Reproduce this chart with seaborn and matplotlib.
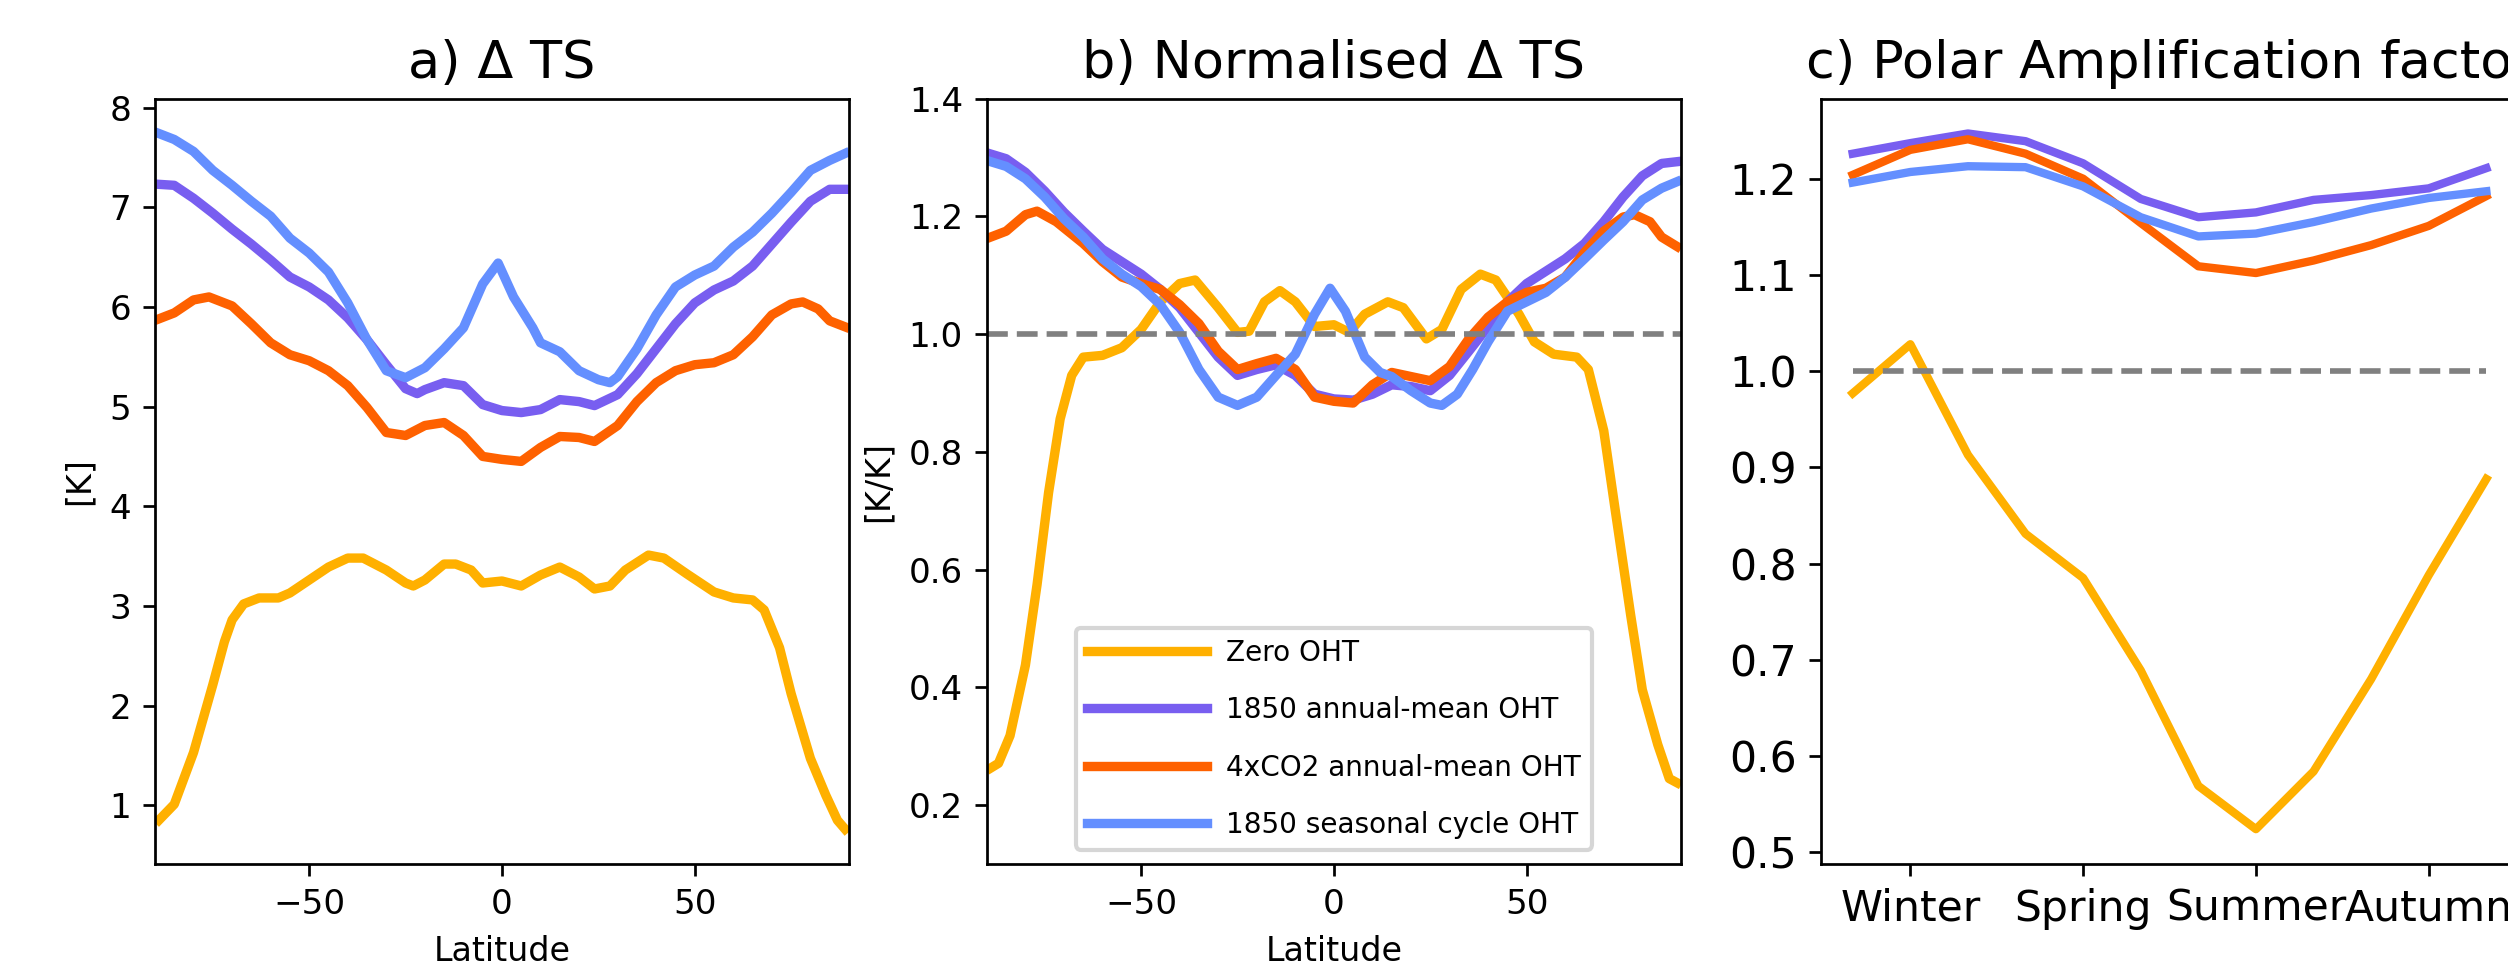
import matplotlib
matplotlib.use("Agg")
import matplotlib.pyplot as plt
import seaborn as sns

# ---- panel a: Delta TS [K] -------------------------------------------------
lat_a_zero = [-89, -85, -80, -75, -72, -70, -67, -63, -58, -55, -50, -45, -40, -36, -30, -25,
              -23, -20, -15, -12, -8, -5, 0, 5, 10, 15, 20, 24, 28, 32, 38, 42, 48, 55, 60,
              65, 68, 72, 75, 80, 84, 87, 89]
ts_zero = [0.85, 1.01, 1.53, 2.21, 2.64, 2.86, 3.02, 3.08, 3.08, 3.13, 3.26, 3.39, 3.48, 3.48,
           3.36, 3.23, 3.20, 3.26, 3.42, 3.42, 3.36, 3.23, 3.25, 3.20, 3.31, 3.39, 3.29, 3.17,
           3.20, 3.36, 3.51, 3.48, 3.32, 3.14, 3.08, 3.06, 2.96, 2.58, 2.12, 1.47, 1.10, 0.85, 0.76]

lat_a_1850 = [-89, -85, -80, -75, -70, -65, -60, -55, -50, -45, -40, -35, -30, -25, -22, -20,
              -15, -10, -5, 0, 5, 10, 15, 20, 24, 30, 35, 40, 45, 50, 55, 60, 65, 70, 75, 80, 85, 89]
ts_1850 = [7.23, 7.22, 7.09, 6.94, 6.78, 6.63, 6.47, 6.30, 6.20, 6.07, 5.89, 5.67, 5.42, 5.18,
           5.13, 5.17, 5.24, 5.21, 5.02, 4.96, 4.94, 4.97, 5.07, 5.05, 5.01, 5.12, 5.33, 5.58,
           5.83, 6.04, 6.17, 6.26, 6.41, 6.63, 6.85, 7.06, 7.18, 7.18]

lat_a_4x = [-89, -85, -80, -76, -70, -65, -60, -55, -50, -45, -40, -35, -30, -25, -20, -15,
            -10, -5, 0, 5, 10, 15, 20, 24, 30, 35, 40, 45, 50, 55, 60, 65, 70, 75, 78, 82, 85, 89]
ts_4x = [5.88, 5.94, 6.07, 6.10, 6.01, 5.83, 5.64, 5.52, 5.46, 5.36, 5.21, 4.99, 4.74, 4.71,
         4.81, 4.84, 4.71, 4.50, 4.47, 4.45, 4.59, 4.70, 4.69, 4.65, 4.81, 5.05, 5.24, 5.36,
         5.42, 5.44, 5.52, 5.70, 5.92, 6.03, 6.05, 5.98, 5.86, 5.80]

lat_a_seas = [-89, -85, -80, -75, -70, -65, -60, -55, -50, -45, -40, -35, -30, -25, -20, -15,
              -10, -5, -1, 3, 8, 10, 15, 20, 25, 28, 30, 35, 40, 45, 50, 55, 60, 65, 70, 75, 80, 85, 89]
ts_seas = [7.74, 7.68, 7.56, 7.37, 7.22, 7.06, 6.91, 6.69, 6.54, 6.35, 6.04, 5.67, 5.36, 5.29,
           5.39, 5.58, 5.79, 6.23, 6.44, 6.10, 5.79, 5.64, 5.55, 5.36, 5.27, 5.24, 5.30, 5.58,
           5.92, 6.20, 6.32, 6.41, 6.60, 6.75, 6.94, 7.15, 7.37, 7.47, 7.54]

# ---- panel b: normalised Delta TS [K/K] ------------------------------------
lat_b_zero = [-89, -87, -84, -80, -77, -74, -71, -68, -65, -60, -55, -50, -45, -40, -36, -30,
              -25, -22, -18, -14, -10, -5, 0, 4, 8, 14, 18, 24, 28, 33, 38, 42, 48, 52, 57, 63,
              66, 70, 73, 77, 80, 84, 87, 89]
nts_zero = [0.263, 0.271, 0.318, 0.438, 0.574, 0.731, 0.856, 0.930, 0.961, 0.964, 0.977, 1.008,
            1.055, 1.086, 1.092, 1.045, 1.003, 1.005, 1.055, 1.074, 1.055, 1.013, 1.016, 1.003,
            1.034, 1.055, 1.045, 0.992, 1.008, 1.076, 1.102, 1.092, 1.034, 0.987, 0.966, 0.961,
            0.940, 0.836, 0.700, 0.522, 0.396, 0.303, 0.245, 0.238]

lat_b_1850 = [-89, -85, -80, -75, -70, -65, -60, -55, -50, -45, -40, -35, -30, -25, -20, -15,
              -10, -5, 0, 5, 10, 15, 20, 25, 30, 35, 40, 45, 50, 55, 60, 65, 70, 75, 80, 85, 89]
nts_1850 = [1.306, 1.298, 1.275, 1.243, 1.207, 1.175, 1.144, 1.123, 1.102, 1.076, 1.045, 1.003,
            0.961, 0.930, 0.940, 0.948, 0.930, 0.898, 0.890, 0.888, 0.898, 0.914, 0.911, 0.904,
            0.930, 0.971, 1.013, 1.055, 1.086, 1.107, 1.128, 1.154, 1.191, 1.233, 1.269, 1.290, 1.293]

lat_b_4x = [-89, -85, -80, -77, -72, -65, -60, -55, -50, -45, -40, -35, -30, -25, -20, -15,
            -10, -5, 0, 5, 10, 15, 20, 25, 30, 35, 40, 45, 50, 55, 60, 65, 70, 75, 78, 82, 85, 89]
nts_4x = [1.165, 1.175, 1.203, 1.209, 1.191, 1.154, 1.123, 1.097, 1.086, 1.076, 1.050, 1.018,
          0.971, 0.940, 0.950, 0.959, 0.940, 0.893, 0.886, 0.883, 0.914, 0.935, 0.928, 0.921,
          0.945, 0.992, 1.029, 1.055, 1.071, 1.078, 1.097, 1.139, 1.175, 1.199, 1.203, 1.191,
          1.165, 1.149]

lat_b_seas = [-89, -85, -80, -75, -70, -65, -60, -55, -50, -45, -40, -35, -30, -25, -20, -15,
              -10, -5, -1, 3, 8, 12, 15, 20, 25, 28, 32, 36, 40, 45, 50, 55, 60, 65, 70, 75, 80, 85, 89]
nts_seas = [1.293, 1.285, 1.264, 1.233, 1.196, 1.165, 1.128, 1.102, 1.081, 1.050, 1.003, 0.940,
            0.893, 0.879, 0.893, 0.930, 0.966, 1.034, 1.078, 1.039, 0.961, 0.935, 0.928, 0.904,
            0.883, 0.879, 0.898, 0.940, 0.987, 1.039, 1.055, 1.071, 1.097, 1.128, 1.160, 1.191,
            1.228, 1.248, 1.259]

# ---- panel c: polar amplification factor by month ---------------------------
months = list(range(12))
season_ticks = [1, 4, 7, 10]
season_labels = ["Winter", "Spring", "Summer", "Autumn"]
paf_zero = [0.977, 1.028, 0.913, 0.831, 0.785, 0.689, 0.569, 0.524, 0.584, 0.680, 0.788, 0.888]
paf_1850 = [1.226, 1.237, 1.247, 1.239, 1.216, 1.179, 1.160, 1.165, 1.178, 1.183, 1.190, 1.211]
paf_4x = [1.204, 1.230, 1.241, 1.226, 1.200, 1.154, 1.109, 1.102, 1.115, 1.131, 1.151, 1.182]
paf_seas = [1.196, 1.207, 1.213, 1.212, 1.192, 1.160, 1.140, 1.143, 1.155, 1.169, 1.180, 1.187]

LABELS = ["Zero OHT", "1850 annual-mean OHT", "4xCO2 annual-mean OHT", "1850 seasonal cycle OHT"]
COLORS = ["#FFB000", "#785EF0", "#FE6100", "#648FFF"]

# the whole figure looks like a default matplotlib figure shrunk by ~0.82
S = 0.82
plt.rcParams.update({
    "axes.linewidth": 0.8 * S,
    "xtick.major.width": 0.8 * S,
    "ytick.major.width": 0.8 * S,
    "xtick.major.size": 3.5 * S,
    "ytick.major.size": 3.5 * S,
    "xtick.major.pad": 3.5 * S,
    "ytick.major.pad": 3.5 * S,
    "axes.labelpad": 4.0 * S,
    "axes.titlepad": 6.0 * S,
})

LW = 2.25
TICK_AB = 8.2
TICK_C = 10.2
TITLE = 12.6
LABEL = 8.0

fig = plt.figure(figsize=(8.36, 3.2167), dpi=300)
ax_a = fig.add_axes([0.0618, 0.1047, 0.2767, 0.793])
ax_b = fig.add_axes([0.3935, 0.1047, 0.2767, 0.793])
ax_c = fig.add_axes([0.7261, 0.1047, 0.2779, 0.793])

# a) absolute warming
series_a = [(lat_a_zero, ts_zero), (lat_a_1850, ts_1850), (lat_a_4x, ts_4x), (lat_a_seas, ts_seas)]
for (lat, vals), col in zip(series_a, COLORS):
    sns.lineplot(x=lat, y=vals, color=col, linewidth=LW, ax=ax_a)
ax_a.set_xlim(-90, 90)
ax_a.set_title("a) Δ TS", fontsize=TITLE)
ax_a.set_ylabel("[K]", fontsize=LABEL)
ax_a.set_xlabel("Latitude", fontsize=LABEL)
ax_a.tick_params(labelsize=TICK_AB)

# b) normalised warming
series_b = [(lat_b_zero, nts_zero), (lat_b_1850, nts_1850), (lat_b_4x, nts_4x), (lat_b_seas, nts_seas)]
for (lat, vals), col, lab in zip(series_b, COLORS, LABELS):
    sns.lineplot(x=lat, y=vals, color=col, linewidth=LW, label=lab, ax=ax_b)
ax_b.axhline(1.0, color="grey", linestyle="--", linewidth=1.35)
ax_b.set_xlim(-90, 90)
ax_b.set_ylim(0.1, 1.4)
ax_b.set_title("b) Normalised Δ TS", fontsize=TITLE)
ax_b.set_ylabel("[K/K]", fontsize=LABEL)
ax_b.set_xlabel("Latitude", fontsize=LABEL)
ax_b.tick_params(labelsize=TICK_AB)
ax_b.legend(loc="lower center", fontsize=6.7, labelspacing=1.05, handlelength=4.3,
            handletextpad=0.7)

# c) polar amplification
for vals, col in zip([paf_zero, paf_1850, paf_4x, paf_seas], COLORS):
    sns.lineplot(x=months, y=vals, color=col, linewidth=2.0, ax=ax_c)
ax_c.hlines(1.0, months[0], months[-1], color="grey", linestyle="--", linewidth=1.35)
ax_c.set_xticks(season_ticks)
ax_c.set_xticklabels(season_labels)
ax_c.set_title("c) Polar Amplification factor", fontsize=TITLE)
ax_c.tick_params(labelsize=TICK_C)

fig.savefig("out.png", dpi=300)
